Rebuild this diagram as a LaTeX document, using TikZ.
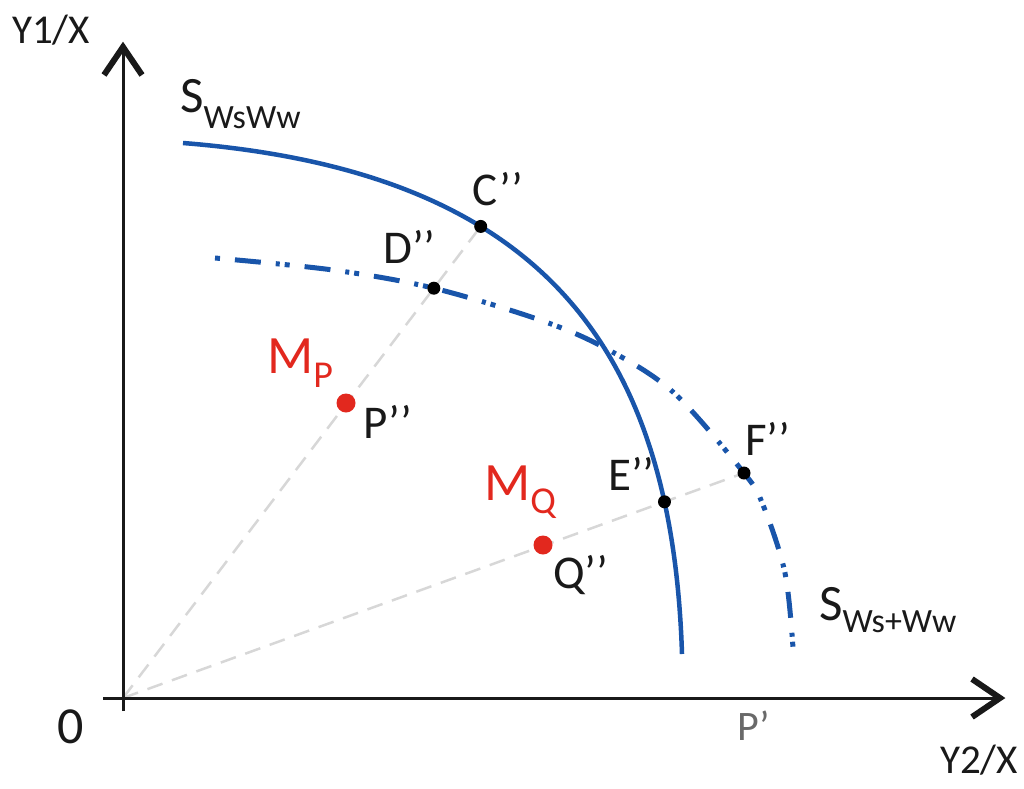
\documentclass[tikz,border=0pt]{standalone}
\usepackage{fontspec}
\setmainfont{Carlito}
\usetikzlibrary{calc,intersections}
\definecolor{curveblue}{RGB}{25,85,170}
\definecolor{mred}{RGB}{226,40,30}
\definecolor{guidegray}{RGB}{215,215,215}
\definecolor{labgray}{RGB}{105,105,105}
\definecolor{axisblack}{RGB}{25,25,25}
\begin{document}
\begin{tikzpicture}[x=1pt,y=-1pt,
  axisline/.style={line width=3pt,axisblack},
  chev/.style={line width=6pt,line join=miter,miter limit=10,axisblack},
  guide/.style={guidegray,line width=2.5pt,dash pattern=on 16pt off 10pt},
  solidcurve/.style={curveblue,line width=4.5pt},
  dashdotcurve/.style={curveblue,line width=5pt,dash pattern=on 26pt off 15pt on 4pt off 5pt on 5pt off 15pt,dash phase=50pt},
  bdot/.style={circle,fill=black,inner sep=0pt,minimum size=13pt},
  rdot/.style={circle,fill=mred,inner sep=0pt,minimum size=19pt},
  lab/.style={inner sep=0pt,anchor=base west,text=axisblack,font=\fontsize{47}{47}\selectfont},
  axlab/.style={inner sep=0pt,anchor=base west,text=axisblack,font=\fontsize{41}{41}\selectfont},
  mlab/.style={inner sep=0pt,anchor=base west,text=mred,font=\fontsize{54}{54}\selectfont},
  slab/.style={inner sep=0pt,anchor=base west,text=axisblack,font=\fontsize{51}{51}\selectfont}
]
\useasboundingbox (0,0) rectangle (1024,788);

% key points
\coordinate (O) at (123,698);
\coordinate (ybot) at (123,711);
\coordinate (ytop) at (123,47);
\coordinate (xleft) at (103,698);
\coordinate (xright) at (1000,698);
\coordinate (P) at (346,403);
\coordinate (Q) at (543,545);
\coordinate (dirC) at (478,230);
\coordinate (dirF) at (744,473);

% curves
\path[name path=solid] (183,143) .. controls (535,171) and (672,340) .. (682,654);
\path[name path=dashdot] plot[smooth,tension=0.55] coordinates {(215,258) (333,270) (433,288) (540,320) (605,348) (673,392) (744,473) (763,505) (785,573) (793,648)};
\path[name path=ray1] (O) -- ($(O)!1.25!(dirC)$);
\path[name path=ray2] (O) -- ($(O)!1.25!(dirF)$);
\path[name intersections={of=ray1 and solid,by=C}];
\path[name intersections={of=ray1 and dashdot,by=D}];
\path[name intersections={of=ray2 and solid,by=E}];
\path[name intersections={of=ray2 and dashdot,by=F}];

% guide lines
\draw[guide] (O) -- (C);
\draw[guide] (O) -- (F);

\draw[solidcurve] (183,143) .. controls (535,171) and (672,340) .. (682,654);
\draw[dashdotcurve] plot[smooth,tension=0.55] coordinates {(215,258) (333,270) (433,288) (540,320) (605,348) (673,392) (744,473) (763,505) (785,573) (793,648)};

% axes
\draw[axisline] (ybot) -- (ytop);
\draw[axisline] (xleft) -- (xright);
\draw[chev] ($(ytop)+(-19,28)$) -- (ytop) -- ($(ytop)+(19,28)$);
\draw[chev] ($(xright)+(-28,-19)$) -- (xright) -- ($(xright)+(-28,19)$);

% dots
\node[bdot] (Cd) at (C) {};
\node[bdot] (Dd) at (D) {};
\node[bdot] (Ed) at (E) {};
\node[bdot] (Fd) at (F) {};
\node[rdot] (Pd) at (P) {};
\node[rdot] (Qd) at (Q) {};

% labels
\node[axlab] (y1) at (12,43) {Y1/X};
\node[axlab] (y2) at (940,773) {Y2/X};
\node[inner sep=0pt,anchor=base west,text=axisblack,font=\fontsize{52}{52}\selectfont] (zero) at (57,743) {0};
\node[inner sep=0pt,anchor=base west,text=labgray,font=\fontsize{42}{42}\selectfont] (pprime) at (737,740) {P’};
\node[lab] (Cl) at (472,205) {C’’};
\node[lab] (Dl) at (383,263) {D’’};
\node[lab] (El) at (608,490) {E’’};
\node[lab] (Fl) at (745,455) {F’’};
\node[lab] (Pl) at (363,438) {P’’};
\node[lab] (Ql) at (553,588) {Q’’};
\node[mlab] (MP) at (267,373) {M\raisebox{-14pt}{\fontsize{38}{38}\selectfont P}};
\node[mlab] (MQ) at (484,500) {M\raisebox{-13pt}{\fontsize{38}{38}\selectfont Q}};
\node[slab] (S1) at (180,112) {S\raisebox{-16pt}{\fontsize{34}{34}\selectfont WsWw}};
\node[slab] (S2) at (819,620) {S\raisebox{-12pt}{\fontsize{34}{34}\selectfont Ws+Ww}};
\end{tikzpicture}
\end{document}
